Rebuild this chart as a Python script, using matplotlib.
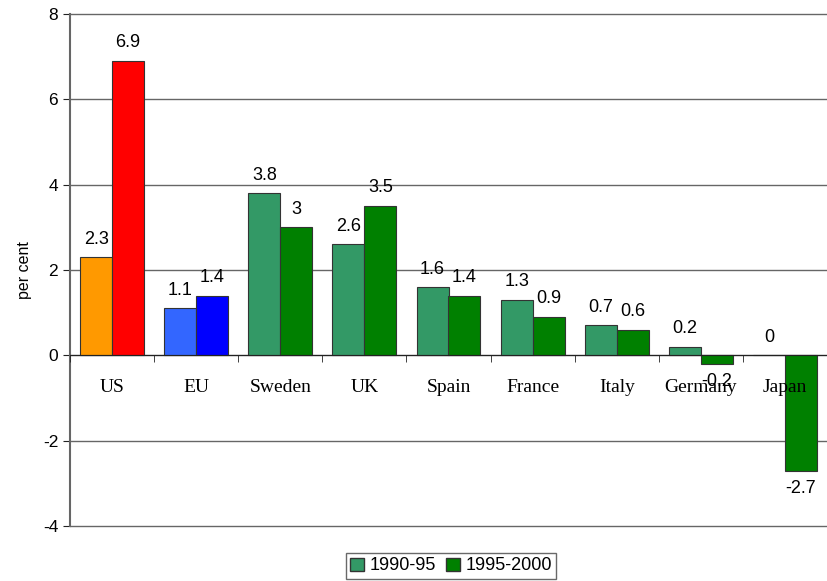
import matplotlib.pyplot as plt
import numpy as np

countries = ["US", "EU", "Sweden", "UK", "Spain", "France", "Italy", "Germany", "Japan"]
p1990_95 = [2.3, 1.1, 3.8, 2.6, 1.6, 1.3, 0.7, 0.2, 0.0]
p1995_2000 = [6.9, 1.4, 3.0, 3.5, 1.4, 0.9, 0.6, -0.2, -2.7]
yticks = [-4, -2, 0, 2, 4, 6, 8]

col1 = ["#FF9900", "#3366FF"] + ["#339966"] * 7
col2 = ["#FF0000", "#0000FF"] + ["#008000"] * 7

fig = plt.figure(figsize=(8.27, 5.81), dpi=100)
ax = fig.add_axes([70 / 827, 1 - 526 / 581, 757 / 827, 512 / 581])

x = np.arange(len(countries))
w = 0.38
ax.bar(x - w / 2, p1990_95, w, color=col1, edgecolor="#333333", linewidth=0.8, zorder=3)
ax.bar(x + w / 2, p1995_2000, w, color=col2, edgecolor="#333333", linewidth=0.8, zorder=3)

for xi, v in zip(x - w / 2, p1990_95):
    off = 18 if v >= 0 else -18
    ax.annotate("%g" % v, (xi, v), xytext=(0, off), textcoords="offset pixels",
                ha="center", va="center", family="Liberation Sans", fontsize=13, zorder=6)
for xi, v in zip(x + w / 2, p1995_2000):
    off = 18 if v >= 0 else -18
    ax.annotate("%g" % v, (xi, v), xytext=(0, off), textcoords="offset pixels",
                ha="center", va="center", family="Liberation Sans", fontsize=13, zorder=6)

ax.set_xlim(-0.5, len(countries) - 0.5)
ax.set_ylim(-4, 8)
ax.set_yticks(yticks)
ax.set_yticklabels([str(t) for t in yticks], family="Liberation Sans", fontsize=12.5)
ax.yaxis.grid(True, color="#666666", linewidth=1)
ax.set_axisbelow(True)
for gl in ax.get_ygridlines():
    gl.set_clip_on(False)

ax.spines["top"].set_visible(False)
ax.spines["right"].set_visible(False)
ax.spines["left"].set_color("#666666")
ax.spines["left"].set_linewidth(1.5)
ax.spines["bottom"].set_position(("data", 0))
ax.spines["bottom"].set_color("#222222")
ax.spines["bottom"].set_zorder(4)

ax.set_xticks(x)
ax.set_xticklabels(countries, family="Liberation Serif", fontsize=14)
ax.tick_params(axis="x", which="major", length=0, pad=17)
ax.set_xticks(np.arange(len(countries) + 1) - 0.5, minor=True)
ax.tick_params(axis="x", which="minor", length=5, color="#222222")
ax.tick_params(axis="y", length=5, color="#222222")
for lbl in ax.get_xticklabels():
    lbl.set_zorder(6)
ax.xaxis.set_zorder(5)

ax.set_ylabel("per cent", family="Liberation Sans", fontsize=11.5, labelpad=8)

h1 = plt.Rectangle((0, 0), 1, 1, facecolor="#339966", edgecolor="#333333")
h2 = plt.Rectangle((0, 0), 1, 1, facecolor="#008000", edgecolor="#333333")
leg = fig.legend([h1, h2], ["1990-95", "1995-2000"], loc="center",
                 bbox_to_anchor=(451 / 827, 1 - 566 / 581), ncol=2,
                 prop={"family": "Liberation Sans", "size": 13},
                 frameon=True, fancybox=False, edgecolor="#444444",
                 handlelength=0.75, handleheight=0.75, handletextpad=0.3,
                 columnspacing=0.6, borderpad=0.25, borderaxespad=0)
leg.get_frame().set_linewidth(1)

fig.savefig("out.png", dpi=100)
